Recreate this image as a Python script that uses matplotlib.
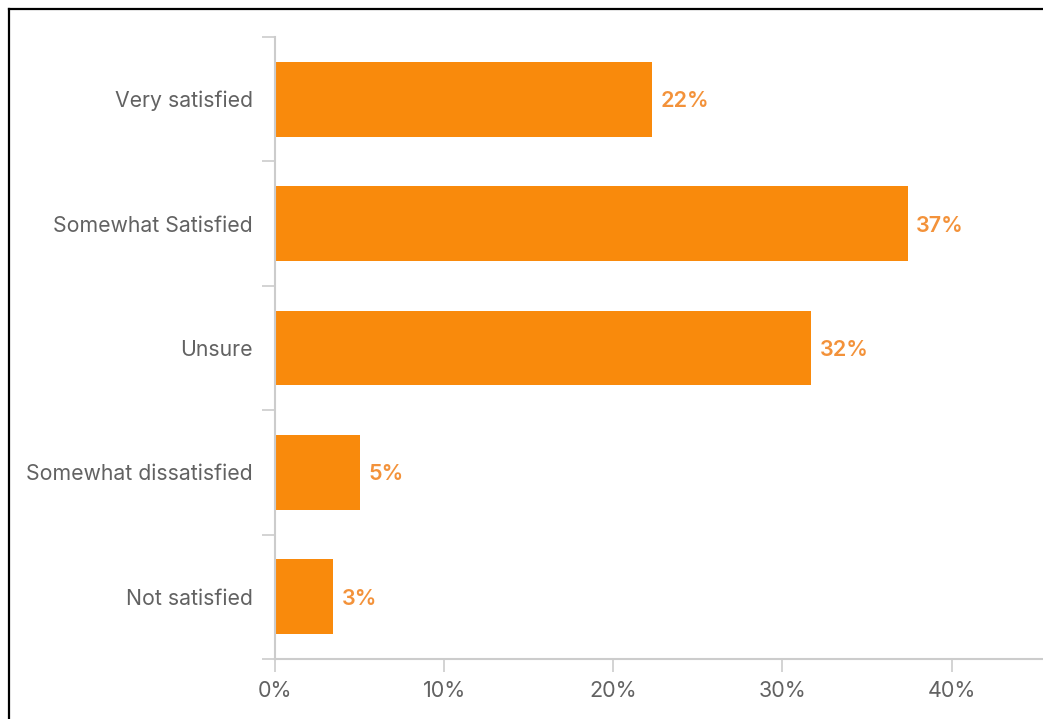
import matplotlib
matplotlib.use("Agg")
import matplotlib.pyplot as plt
from matplotlib.lines import Line2D
import numpy as np

categories = ["Very satisfied", "Somewhat Satisfied", "Unsure",
              "Somewhat dissatisfied", "Not satisfied"]
percents = [22.3, 37.4, 31.7, 5.0, 3.45]
xticks = [0, 10, 20, 30, 40]

bar_color = "#F98A0C"
label_color = "#F3923A"
text_color = "#626262"
axis_color = "#CCCCCC"

plt.rcParams["font.family"] = ["Inter", "DejaVu Sans"]

fig = plt.figure(figsize=(10.43, 7.19), dpi=100)
ax = fig.add_axes([275 / 1043, 1 - 659 / 719, 1 - 275 / 1043, (659 - 37) / 719])

y = np.arange(len(categories))
ax.barh(y, percents, height=0.6, color=bar_color, zorder=2)

# value labels just right of each bar
for yi, v in zip(y, percents):
    ax.text(v + 0.5, yi, f"{v:.0f}%", va="center_baseline", ha="left",
            color=label_color, fontsize=15.5, fontweight="semibold")

ax.set_ylim(len(categories) - 0.5, -0.5)
ax.set_xlim(0, 45.4)

ax.set_yticks(y)
ax.set_yticklabels(categories)
ax.set_yticks(np.arange(len(categories) + 1) - 0.5, minor=True)
ax.tick_params(axis="y", which="major", length=0, pad=16,
               labelsize=15.3, labelcolor=text_color)
ax.tick_params(axis="y", which="minor", length=9.5, width=1.2,
               color=axis_color)

ax.set_xticks(xticks)
ax.set_xticklabels([f"{t}%" for t in xticks])
ax.tick_params(axis="x", length=9.5, width=1.2, color=axis_color, pad=6,
               labelsize=15.5, labelcolor=text_color)

for side in ["top", "right"]:
    ax.spines[side].set_visible(False)
for side in ["left", "bottom"]:
    ax.spines[side].set_color(axis_color)
    ax.spines[side].set_linewidth(1.5)

# black frame around the panel (left and top edges visible)
fig.add_artist(Line2D([8.5 / 1043, 8.5 / 1043], [0, 1 - 8.5 / 719],
                      transform=fig.transFigure, color="black", lw=1.6))
fig.add_artist(Line2D([8.5 / 1043, 1], [1 - 8.5 / 719, 1 - 8.5 / 719],
                      transform=fig.transFigure, color="black", lw=1.6))

fig.savefig("out.png", dpi=100)
